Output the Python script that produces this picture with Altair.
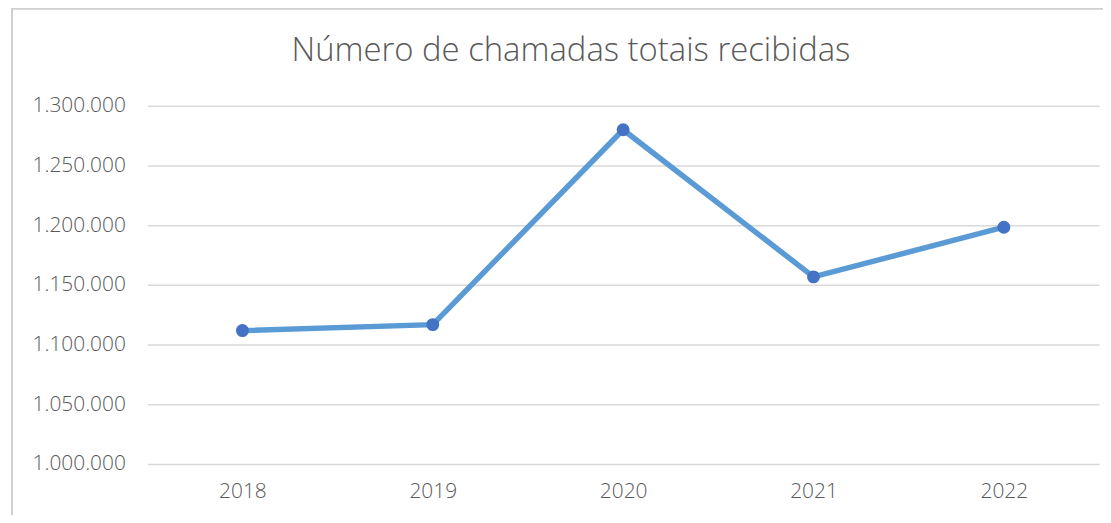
import altair as alt
import pandas as pd

years = ["2018", "2019", "2020", "2021", "2022"]
calls = [1111700, 1116700, 1280000, 1156700, 1198300]
title_text = ["Número de chamadas totais recibidas"]

df = pd.DataFrame({"ano": years, "chamadas": calls})
tdf = pd.DataFrame({"t": title_text})

W, H = 957, 360
PL, PT = 140, 97
FONT = "Open Sans"

x = alt.X("ano:N", sort=years, title=None,
          scale=alt.Scale(paddingInner=0, paddingOuter=0.5, align=0.5),
          axis=alt.Axis(labelAngle=0, ticks=False, domain=False, labelPadding=17,
                        labelFontSize=21, labelColor="#595959", labelFont=FONT,
                        labelFontWeight=300, grid=False))
y = alt.Y("chamadas:Q", title=None,
          scale=alt.Scale(domain=[1000000, 1300000], nice=False, zero=False),
          axis=alt.Axis(values=[1000000, 1050000, 1100000, 1150000, 1200000, 1250000, 1300000],
                        labelExpr="replace(format(datum.value, ',d'), /,/g, '.')",
                        ticks=False, domain=False, labelPadding=22, labelFontSize=21,
                        labelColor="#595959", labelFont=FONT, labelFontWeight=300,
                        gridColor="#d9d9d9", gridWidth=1.5))

border = alt.Chart(df).mark_rect(fill="transparent", stroke="#d0d0d0", strokeWidth=1.5, clip=False).encode(
    x=alt.value(12 - 8 - PL), x2=alt.value(1200), y=alt.value(7 - 8 - PT), y2=alt.value(600)
)

title = alt.Chart(tdf).mark_text(font=FONT, fontSize=33, fontWeight=300, color="#595959",
                                 align="center", baseline="middle").encode(
    text="t:N", x=alt.value(574 - 8 - PL), y=alt.value(50 - 8 - PT)
)

line = alt.Chart(df).mark_line(color="#5B9BD5", strokeWidth=5.5).encode(x=x, y=y)
pts = alt.Chart(df).mark_circle(color="#4472C4", size=170, opacity=1).encode(x=x, y=y)

chart = alt.layer(border, title, line, pts).properties(
    width=W, height=H,
    padding={"left": PL, "top": PT, "right": 4, "bottom": 50},
    autosize=alt.AutoSizeParams(type="none"),
).configure_view(stroke=None)

chart.save("out.html", embed_options={"renderer": "svg", "actions": False})
